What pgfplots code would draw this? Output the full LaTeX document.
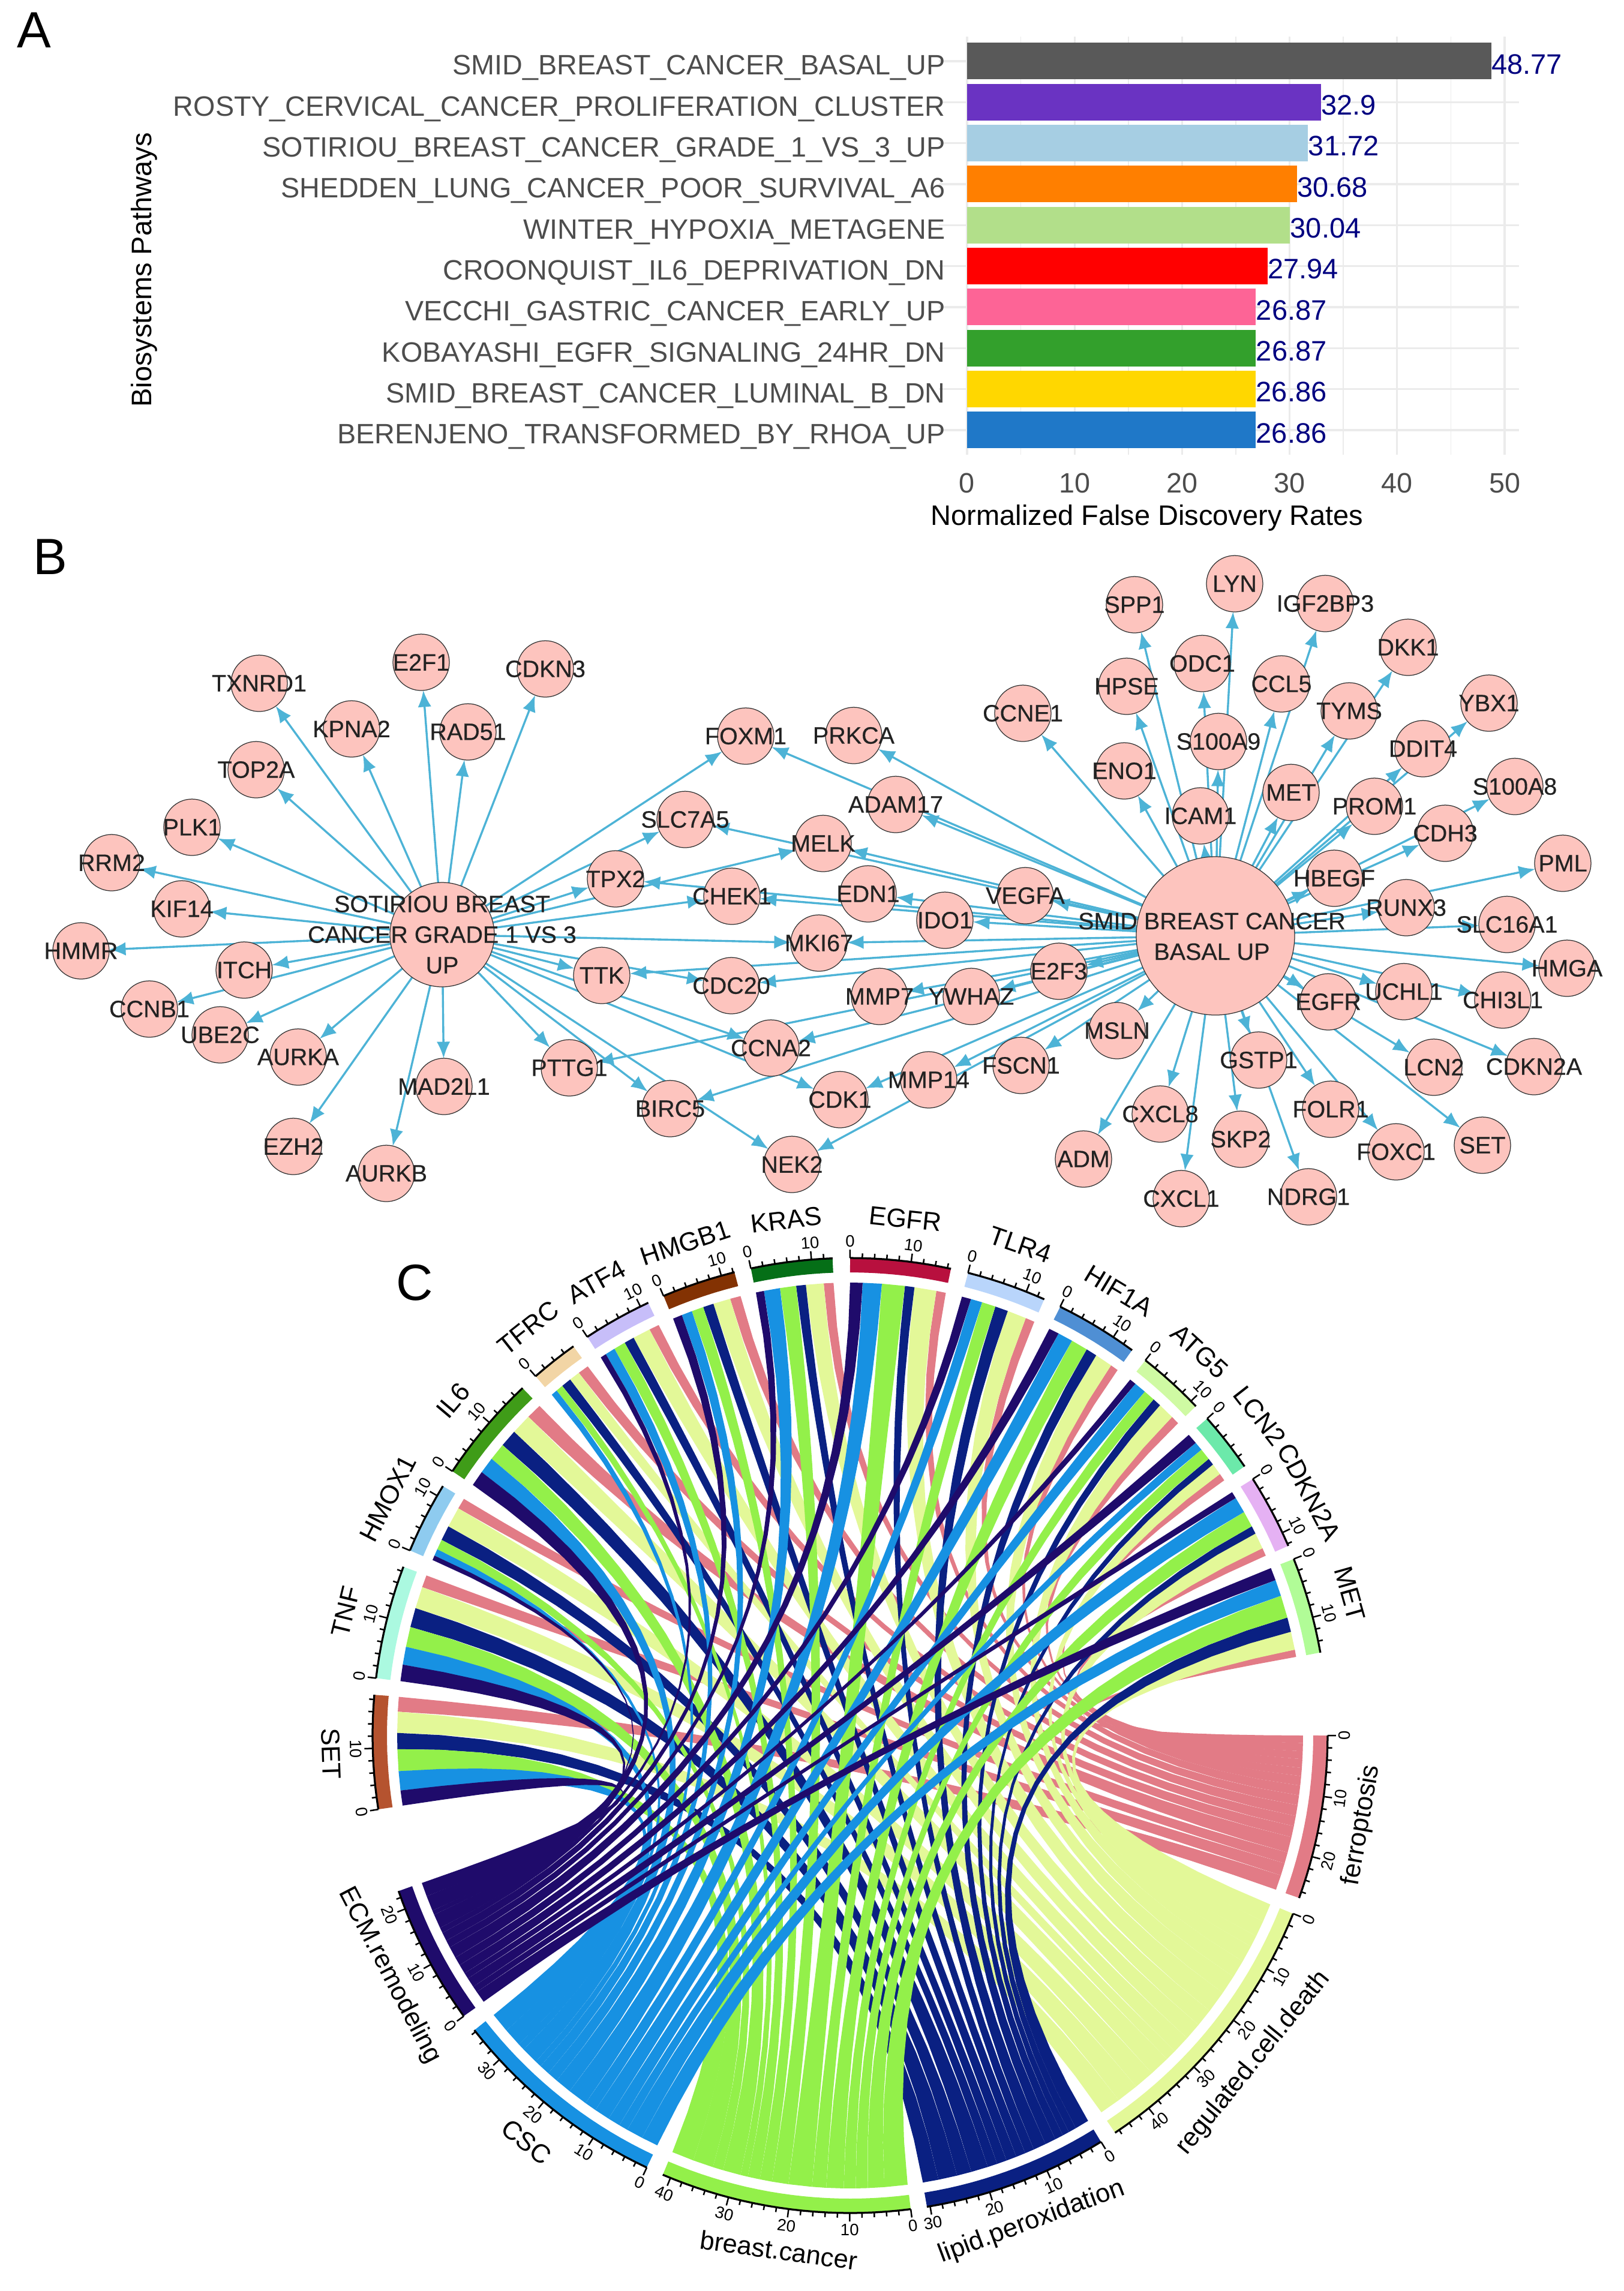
\documentclass[border=0pt]{standalone}
\usepackage{fontspec}
\setmainfont{Liberation Sans}
\newfontfamily\netfont[FakeBold=0.4]{Liberation Sans}
\usepackage{pgfplots}
\usepackage{pgfplotstable}
\pgfplotsset{compat=1.18}
\usetikzlibrary{arrows.meta}

% panel B: gene nodes, s/b = arrow from the SOTIRIOU / BASAL hub
\pgfplotstableread{
x y label s b
432 1139 TXNRD1 1 0
702 1104 E2F1 1 0
909 1115 CDKN3 1 0
586 1215 KPNA2 1 0
780 1220 RAD51 1 0
427 1283 TOP2A 1 0
320 1379 PLK1 1 0
186 1438 RRM2 1 0
303 1515 KIF14 1 0
135 1585 HMMR 1 0
407 1617 ITCH 1 0
249 1682 CCNB1 1 0
367 1725 UBE2C 1 0
497 1762 AURKA 1 0
740 1811 MAD2L1 1 0
489 1911 EZH2 1 0
644 1956 AURKB 1 0
949 1780 PTTG1 1 1
1243 1227 FOXM1 1 1
1142 1366 SLC7A5 1 1
1026 1465 TPX2 1 1
1372 1406 MELK 1 1
1220 1494 CHEK1 1 1
1365 1572 MKI67 1 1
1003 1626 TTK 1 1
1219 1643 CDC20 1 1
1285 1747 CCNA2 1 1
1400 1833 CDK1 1 1
1117 1848 BIRC5 1 1
1320 1941 NEK2 1 1
1423 1226 PRKCA 0 1
1705 1189 CCNE1 0 1
1874 1285 ENO1 0 1
1878 1144 HPSE 0 1
1891 1008 SPP1 0 1
1493 1341 ADAM17 0 1
1447 1490 EDN1 0 1
1709 1493 VEGFA 0 1
1575 1534 IDO1 0 1
1765 1619 E2F3 0 1
1466 1661 MMP7 0 1
1619 1661 YWHAZ 0 1
1862 1718 MSLN 0 1
1702 1776 FSCN1 0 1
1548 1800 MMP14 0 1
1806 1932 ADM 0 1
2058 973 LYN 0 1
2209 1006 IGF2BP3 0 1
2347 1079 DKK1 0 1
2004 1106 ODC1 0 1
2136 1140 CCL5 0 1
2249 1185 TYMS 0 1
2482 1172 YBX1 0 1
2031 1236 S100A9 0 1
2372 1248 DDIT4 0 1
2525 1311 S100A8 0 1
2152 1321 MET 0 1
2291 1344 PROM1 0 1
2001 1360 ICAM1 0 1
2409 1389 CDH3 0 1
2605 1439 PML 0 1
2224 1464 HBEGF 0 1
2344 1513 RUNX3 0 1
2512 1541 SLC16A1 0 1
2612 1614 HMGA 0 1
2214 1670 EGFR 0 1
2340 1653 UCHL1 0 1
2505 1667 CHI3L1 0 1
2098 1767 GSTP1 0 1
2390 1779 LCN2 0 1
2557 1778 CDKN2A 0 1
2218 1849 FOLR1 0 1
2327 1920 FOXC1 0 1
2471 1909 SET 0 1
1934 1857 CXCL8 0 1
2068 1899 SKP2 0 1
1969 1998 CXCL1 0 1
2181 1995 NDRG1 0 1
}\genes

% panel C: link widths (degrees of arc) of each gene to each category
\pgfplotstableread{
name g1 g2 EC CS BC LP RD FE
SET 171.1 184.9 1.93 2.46 2.78 2.06 2.69 1.88
TNF 186.9 200.7 2.11 2.29 2.56 2.47 2.79 1.57
HMOX1 202.8 211.5 0.61 0.87 1.31 1.91 2.61 1.39
IL6 213.6 226.7 1.97 2.10 2.23 2.23 2.62 1.97
TFRC 228.8 234.6 0 0.81 0.93 1.28 1.39 1.39
ATF4 236.6 245.0 0.76 1.29 1.51 1.29 2.27 1.29
HMGB1 247.0 256.0 1.19 1.36 1.53 1.36 2.21 1.36
KRAS 258.0 267.9 1.03 2.06 2.06 1.24 2.27 1.24
EGFR 270.0 282.2 1.59 2.44 2.93 1.22 2.81 1.22
TLR4 284.3 294.0 1.18 1.47 1.76 1.67 2.45 1.18
HIF1A 296.1 306.2 1.31 1.93 2.16 1.42 2.27 1.02
ATG5 308.2 316.4 0.84 1.55 1.49 1.10 2.13 1.10
LCN2 318.4 325.7 1.34 1.12 1.49 0.89 1.49 0.97
CDKN2A 327.5 336.6 0.87 2.06 2.06 1.03 2.06 1.03
MET 338.3 350.0 1.63 2.09 2.88 1.86 2.32 0.93
}\links

% all sectors round the circle, clockwise from east
\pgfplotstableread{
name a1 a2 col
ferroptosis 0 19.9 cFE
regulated.cell.death 21.9 56.3 cRD
lipid.peroxidation 58.3 80.75 cLP
breast.cancer 82.7 113.1 cBC
CSC 115.2 141.9 cCS
ECM.remodeling 144 161 cEC
SET 171.1 184.9 sSET
TNF 186.9 200.7 sTNF
HMOX1 202.8 211.5 sHMOX
IL6 213.6 226.7 sIL
TFRC 228.8 234.6 sTFRC
ATF4 236.6 245.0 sATF
HMGB1 247.0 256.0 sHMGB
KRAS 258.0 267.9 sKRAS
EGFR 270.0 282.2 sEGFR
TLR4 284.3 294.0 sTLR
HIF1A 296.1 306.2 sHIF
ATG5 308.2 316.4 sATG
LCN2 318.4 325.7 sLCN
CDKN2A 327.5 336.6 sCDKN
MET 338.3 350.0 sMET
}\sectors

\definecolor{cFE}{HTML}{E27B86}
\definecolor{cRD}{HTML}{E3F898}
\definecolor{cLP}{HTML}{0A2082}
\definecolor{cBC}{HTML}{93F04A}
\definecolor{cCS}{HTML}{1791E2}
\definecolor{cEC}{HTML}{1F0B6B}
\definecolor{sSET}{HTML}{B5532F}
\definecolor{sTNF}{HTML}{ABF9E0}
\definecolor{sHMOX}{HTML}{8ECBEF}
\definecolor{sIL}{HTML}{3F9C18}
\definecolor{sTFRC}{HTML}{F2D5A5}
\definecolor{sATF}{HTML}{C7BEF9}
\definecolor{sHMGB}{HTML}{833203}
\definecolor{sKRAS}{HTML}{056F17}
\definecolor{sEGFR}{HTML}{B8103E}
\definecolor{sTLR}{HTML}{B9D5FB}
\definecolor{sHIF}{HTML}{4F8FD4}
\definecolor{sATG}{HTML}{CFFAA3}
\definecolor{sLCN}{HTML}{6CE9AA}
\definecolor{sCDKN}{HTML}{E5B1F3}
\definecolor{sMET}{HTML}{B1FC97}
\definecolor{edgeblue}{HTML}{4DB3D6}
\definecolor{nodefill}{HTML}{FDC4BE}
\definecolor{nodetext}{HTML}{222222}
\definecolor{axisgrey}{HTML}{4D4D4D}
\definecolor{gridgrey}{HTML}{EBEBEB}

\tikzset{
  lab/.style={font=\netfont\fontsize{15.8pt}{20.4pt}\selectfont,text=nodetext,align=center,inner sep=0pt},
  ticklab/.style={font=\fontsize{11pt}{13pt}\selectfont,inner sep=0pt},
  seclab/.style={font=\fontsize{17.4pt}{20pt}\selectfont,inner sep=0pt},
  panel/.style={font=\fontsize{34pt}{36pt}\selectfont,inner sep=0pt},
}
\pgfplotsset{
  edge/.style={color=edgeblue,line width=1.35pt,-{Latex[length=11pt,width=9pt]},shorten >=18.8pt,forget plot},
}

\def\Cx{1417}
\def\Cy{2893}
\newcommand\val[3]{\edef\tmp{\noexpand\pgfplotstablegetelem{#1}{#2}\noexpand\of\noexpand#3}\tmp}

% where each link lands on its category sector (order MET ... SET)
\foreach \cat/\ca/\cb in {FE/0/19.9,RD/21.9/56.3,LP/58.3/80.75,BC/82.7/113.1,CS/115.2/141.9,EC/144/161}{%
  \gdef\sumw{0}%
  \foreach \rw in {0,...,14}{\val{\rw}{\cat}\links\pgfmathparse{\sumw+\pgfplotsretval}\xdef\sumw{\pgfmathresult}}%
  \pgfmathsetmacro\scl{(\cb-\ca)/\sumw}%
  \xdef\pos{\ca}%
  \foreach \rw in {14,13,...,0}{%
    \val{\rw}{\cat}\links
    \pgfmathparse{\pos+\pgfplotsretval*\scl}\xdef\nxt{\pgfmathresult}%
    \expandafter\xdef\csname c\cat\rw a\endcsname{\pos}%
    \expandafter\xdef\csname c\cat\rw b\endcsname{\nxt}%
    \xdef\pos{\nxt}%
  }%
}
% where each link leaves its gene sector (order ECM ... ferroptosis)
\foreach \rw in {0,...,14}{%
  \val{\rw}{g1}\links\edef\ga{\pgfplotsretval}%
  \val{\rw}{g2}\links\edef\gb{\pgfplotsretval}%
  \gdef\sumw{0}%
  \foreach \cat in {EC,CS,BC,LP,RD,FE}{\val{\rw}{\cat}\links\pgfmathparse{\sumw+\pgfplotsretval}\xdef\sumw{\pgfmathresult}}%
  \pgfmathsetmacro\scl{(\gb-\ga)/\sumw}%
  \xdef\pos{\ga}%
  \foreach \cat in {EC,CS,BC,LP,RD,FE}{%
    \val{\rw}{\cat}\links
    \pgfmathparse{\pos+\pgfplotsretval*\scl}\xdef\nxt{\pgfmathresult}%
    \expandafter\xdef\csname g\cat\rw a\endcsname{\pos}%
    \expandafter\xdef\csname g\cat\rw b\endcsname{\nxt}%
    \xdef\pos{\nxt}%
  }%
}
% weights of the two ends along a ribbon edge
\gdef\coefs{1/0}
\foreach \i in {1,...,20}{%
  \pgfmathsetmacro\t{\i/20}%
  \pgfmathsetmacro\wa{(1-\t)^2+2*\t*(1-\t)*0.02}%
  \pgfmathsetmacro\wd{\t^2+2*\t*(1-\t)*0.02}%
  \xdef\coefs{\coefs,\wa/\wd}%
}

% outline of one ribbon: gene arc g1-g2, category arc c1-c2
\newcommand\ribbon[5]{%
  \pgfmathsetmacro\Ax{755*cos(#2)}\pgfmathsetmacro\Ay{755*sin(#2)}%
  \pgfmathsetmacro\Dx{755*cos(#3)}\pgfmathsetmacro\Dy{755*sin(#3)}%
  \pgfmathsetmacro\Ex{755*cos(#4)}\pgfmathsetmacro\Ey{755*sin(#4)}%
  \pgfmathsetmacro\Fx{755*cos(#1)}\pgfmathsetmacro\Fy{755*sin(#1)}%
  \gdef\pts{}%
  \foreach \wa/\wd in \coefs {%
    \pgfmathsetmacro\px{\Cx+\wa*\Ax+\wd*\Dx}\pgfmathsetmacro\py{\Cy+\wa*\Ay+\wd*\Dy}%
    \xdef\pts{\pts(\px,\py)}}%
  \foreach \wa/\wd in \coefs {%
    \pgfmathsetmacro\px{\Cx+\wa*\Ex+\wd*\Fx}\pgfmathsetmacro\py{\Cy+\wa*\Ey+\wd*\Fy}%
    \xdef\pts{\pts(\px,\py)}}%
  \edef\tmp{\noexpand\addplot[fill=#5,draw=none,forget plot] coordinates {\pts};}\tmp
}
\newcommand\arcpts[3]{%
  \pgfmathtruncatemacro\nseg{ceil((#2-#1)/1.5)}%
  \gdef\pts{}%
  \foreach \i in {0,...,\nseg}{%
    \pgfmathsetmacro\th{#1+(#2-#1)*\i/\nseg}%
    \pgfmathsetmacro\px{\Cx+#3*cos(\th)}\pgfmathsetmacro\py{\Cy+#3*sin(\th)}%
    \xdef\pts{\pts(\px,\py)}}%
}

\begin{document}
\begin{tikzpicture}
\useasboundingbox (0,0) rectangle (1082.4pt,1527.6pt);

% panel A
\begin{axis}[
  at={(626pt,1224.4pt)},anchor=south west,
  scale only axis,width=386.8pt,height=278.8pt,
  xmin=-2.62,xmax=51.34,ymin=0.4,ymax=10.6,
  xbar,bar width=24.4pt,bar shift=0pt,
  axis line style={draw=none},
  major tick length=0pt,minor tick length=0pt,
  xtick={0,10,...,50},minor xtick={5,15,...,45},
  ytick={1,...,10},
  yticklabels={BERENJENO\_TRANSFORMED\_BY\_RHOA\_UP,SMID\_BREAST\_CANCER\_LUMINAL\_B\_DN,KOBAYASHI\_EGFR\_SIGNALING\_24HR\_DN,VECCHI\_GASTRIC\_CANCER\_EARLY\_UP,CROONQUIST\_IL6\_DEPRIVATION\_DN,WINTER\_HYPOXIA\_METAGENE,SHEDDEN\_LUNG\_CANCER\_POOR\_SURVIVAL\_A6,SOTIRIOU\_BREAST\_CANCER\_GRADE\_1\_VS\_3\_UP,ROSTY\_CERVICAL\_CANCER\_PROLIFERATION\_CLUSTER,SMID\_BREAST\_CANCER\_BASAL\_UP},
  xmajorgrids,ymajorgrids,xminorgrids,
  major grid style={gridgrey,line width=1.3pt},
  minor grid style={gridgrey,line width=0.6pt},
  /pgf/number format/assume math mode=true,
  tick label style={font=\fontsize{18.7pt}{22pt}\selectfont,text=axisgrey,inner sep=0pt},
  yticklabel style={xshift=4.5pt,yshift=-4.5pt},
  xticklabel style={yshift=-12pt},
  xlabel={Normalized False Discovery Rates},
  ylabel={Biosystems Pathways},
  label style={font=\fontsize{18.8pt}{22pt}\selectfont,inner sep=0pt},
  xlabel style={at={(axis description cs:0.359,-0.1506)},anchor=center},
  ylabel style={at={(axis description cs:-1.37,0.442)},anchor=center},
  nodes near coords,point meta=explicit symbolic,
  nodes near coords style={anchor=west,font=\fontsize{18.8pt}{22pt}\selectfont,text={rgb,1:red,0;green,0;blue,0.5},inner sep=0pt,yshift=-2pt},
]
\addplot[fill=black!65,draw=none] coordinates {(48.77,10) [48.77]};
\addplot[fill={rgb,255:red,106;green,51;blue,194},draw=none] coordinates {(32.9,9) [32.9]};
\addplot[fill={rgb,255:red,166;green,206;blue,227},draw=none] coordinates {(31.72,8) [31.72]};
\addplot[fill={rgb,255:red,255;green,127;blue,0},draw=none] coordinates {(30.68,7) [30.68]};
\addplot[fill={rgb,255:red,178;green,223;blue,138},draw=none] coordinates {(30.04,6) [30.04]};
\addplot[fill={rgb,255:red,255;green,0;blue,0},draw=none] coordinates {(27.94,5) [27.94]};
\addplot[fill={rgb,255:red,253;green,100;blue,150},draw=none] coordinates {(26.87,4) [26.87]};
\addplot[fill={rgb,255:red,51;green,160;blue,44},draw=none] coordinates {(26.87,3) [26.87]};
\addplot[fill={rgb,255:red,255;green,215;blue,0},draw=none] coordinates {(26.86,2) [26.86]};
\addplot[fill={rgb,255:red,31;green,120;blue,200},draw=none] coordinates {(26.86,1) [26.86]};
\end{axis}

% panels B and C, in the reference's pixel coordinates
\begin{axis}[
  at={(0pt,0pt)},anchor=south west,
  scale only axis,width=1082.4pt,height=1527.6pt,
  xmin=0,xmax=2706,ymin=0,ymax=3819,y dir=reverse,
  hide axis,clip=false,
]
% network edges
\foreach \rw in {0,...,77}{%
  \val{\rw}{x}\genes\edef\gx{\pgfplotsretval}%
  \val{\rw}{y}\genes\edef\gy{\pgfplotsretval}%
  \val{\rw}{s}\genes\edef\fs{\pgfplotsretval}%
  \val{\rw}{b}\genes\edef\fb{\pgfplotsretval}%
  \ifnum\fs=1 \edef\tmp{\noexpand\addplot[edge] coordinates {(737,1558)(\gx,\gy)};}\tmp\fi
  \ifnum\fb=1 \edef\tmp{\noexpand\addplot[edge] coordinates {(2026,1560)(\gx,\gy)};}\tmp\fi
}
\addplot[only marks,mark=*,mark size=34.8pt,mark options={fill=nodefill,draw=black!80,line width=0.5pt},forget plot] coordinates {(737,1558)};
\addplot[only marks,mark=*,mark size=52.8pt,mark options={fill=nodefill,draw=black!80,line width=0.5pt},forget plot] coordinates {(2026,1560)};
\addplot[only marks,mark=*,mark size=18.8pt,mark options={fill=nodefill,draw=black!80,line width=0.5pt},
  nodes near coords,point meta=explicit symbolic,
  nodes near coords style={lab,anchor=center},forget plot] table[x=x,y=y,meta=label] {\genes};
\coordinate (hubS) at (axis cs:737,1558);
\coordinate (hubB) at (axis cs:2020,1561);

% chord ribbons, ferroptosis at the bottom of the stack
\foreach \cat in {FE,RD,LP,BC,CS,EC}{%
  \foreach \rw in {0,...,14}{%
    \edef\ga{\csname g\cat\rw a\endcsname}\edef\gb{\csname g\cat\rw b\endcsname}%
    \edef\ca{\csname c\cat\rw a\endcsname}\edef\cb{\csname c\cat\rw b\endcsname}%
    \ifdim\ga pt<\gb pt \ribbon{\ga}{\gb}{\ca}{\cb}{c\cat}\fi
  }%
}

% sector tracks, axes, ticks and names
\gdef\tickpts{}
\foreach \rw in {0,...,20}{%
  \val{\rw}{a1}\sectors\edef\sa{\pgfplotsretval}%
  \val{\rw}{a2}\sectors\edef\sb{\pgfplotsretval}%
  \val{\rw}{col}\sectors\edef\scol{\pgfplotsretval}%
  \val{\rw}{name}\sectors\edef\sname{\pgfplotsretval}%
  \arcpts{\sa}{\sb}{784}%
  \edef\tmp{\noexpand\addplot[color=\scol,line width=9.6pt,forget plot] coordinates {\pts};}\tmp
  \arcpts{\sa}{\sb}{796}%
  \edef\tmp{\noexpand\addplot[color=black,line width=1.3pt,forget plot] coordinates {\pts};}\tmp
  \pgfmathtruncatemacro\nt{floor((\sb-\sa)/1.47)}%
  \foreach \k in {0,...,\nt}{%
    \pgfmathsetmacro\th{\sa+\k*1.47}%
    \pgfmathtruncatemacro\ismaj{mod(\k,5)==0}%
    \pgfmathsetmacro\tl{\ismaj==1 ? 810 : 804}%
    \pgfmathsetmacro\ax{\Cx+796*cos(\th)}\pgfmathsetmacro\ay{\Cy+796*sin(\th)}%
    \pgfmathsetmacro\bx{\Cx+\tl*cos(\th)}\pgfmathsetmacro\by{\Cy+\tl*sin(\th)}%
    \xdef\tickpts{\tickpts(\ax,\ay)(\bx,\by)(nan,nan)}%
    \ifnum\ismaj=1
      \pgfmathtruncatemacro\vv{2*\k}%
      \pgfmathsetmacro\lx{\Cx+824*cos(\th)}\pgfmathsetmacro\ly{\Cy+824*sin(\th)}%
      \pgfmathsetmacro\rot{\th<180 ? 90-\th : 270-\th}%
      \edef\tmp{\noexpand\node[ticklab,rotate=\rot] at (axis cs:\lx,\ly) {\vv};}\tmp
    \fi
  }%
  \pgfmathsetmacro\th{(\sa+\sb)/2}%
  \pgfmathsetmacro\lx{\Cx+866*cos(\th)}\pgfmathsetmacro\ly{\Cy+866*sin(\th)}%
  \pgfmathsetmacro\rot{\th<180 ? 90-\th : 270-\th}%
  \edef\tmp{\noexpand\node[seclab,rotate=\rot] at (axis cs:\lx,\ly) {\sname};}\tmp
}
\edef\tmp{\noexpand\addplot[color=black,line width=1pt,unbounded coords=jump,forget plot] coordinates {\tickpts};}\tmp

\node[panel] at (axis cs:57,50) {A};
\node[panel] at (axis cs:84,928) {B};
\node[panel] at (axis cs:691,2138) {C};
\end{axis}
\node[lab] at (hubS) {SOTIRIOU BREAST\\CANCER GRADE 1 VS 3\\UP};
\node[lab] at (hubB) {SMID BREAST CANCER\\BASAL UP};
\end{tikzpicture}
\end{document}
